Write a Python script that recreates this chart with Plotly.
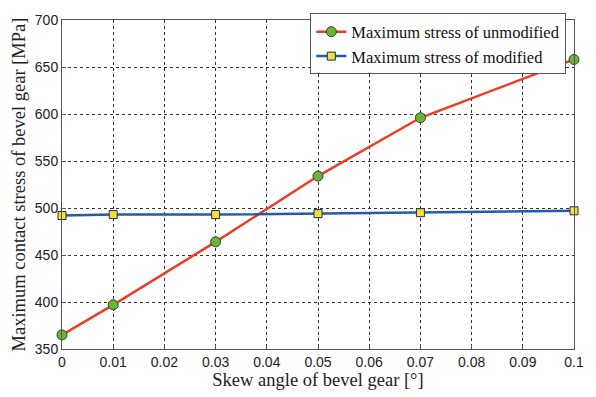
import plotly.graph_objects as go

skew = [0, 0.01, 0.03, 0.05, 0.07, 0.1]
unmodified = [365, 397, 464, 534, 596, 658]
modified = [492, 493, 493, 494, 495, 497]

x_ticks = [0, 0.01, 0.02, 0.03, 0.04, 0.05, 0.06, 0.07, 0.08, 0.09, 0.1]
x_labels = ["0", "0.01", "0.02", "0.03", "0.04", "0.05", "0.06", "0.07", "0.08", "0.09", "0.1"]
y_ticks = [350, 400, 450, 500, 550, 600, 650, 700]

serif = "Liberation Serif, Times New Roman, serif"
sans = "Liberation Sans, Arial, sans-serif"

fig = go.Figure()
fig.add_trace(go.Scatter(
    x=skew, y=unmodified, mode="lines+markers", name="Maximum stress of unmodified",
    line=dict(color="#ee3b24", width=2.5),
    marker=dict(symbol="circle", size=10, color="#6ab43c", line=dict(color="#2d4a1a", width=1)),
    cliponaxis=False,
))
fig.add_trace(go.Scatter(
    x=skew, y=modified, mode="lines+markers", name="Maximum stress of modified",
    line=dict(color="#1f5cb0", width=2.5),
    marker=dict(symbol="square", size=8, color="#f5e135", line=dict(color="#1e2a50", width=1)),
    cliponaxis=False,
))

axis_common = dict(
    showline=True, linecolor="#555555", linewidth=1, mirror=True,
    showgrid=True, gridcolor="#333333", griddash="dot", gridwidth=1,
    ticks="inside", ticklen=4, tickcolor="#555555",
    zeroline=False,
    tickfont=dict(family=sans, size=14, color="#222222"),
)

fig.update_layout(
    width=596, height=397,
    margin=dict(l=62, r=15, t=12, b=41),
    paper_bgcolor="white", plot_bgcolor="white",
    xaxis=dict(range=[0, 0.1], tickvals=x_ticks, ticktext=x_labels,
               title=dict(text="Skew angle of bevel gear [°]", font=dict(family=serif, size=18.5, color="#222222"), standoff=2),
               **axis_common),
    yaxis=dict(range=[350, 700], tickvals=y_ticks,
               title=dict(text="Maximum contact stress of bevel gear [MPa]", font=dict(family=serif, size=18.5, color="#222222"), standoff=4),
               **axis_common),
    legend=dict(x=0.985, y=1.02, xanchor="right", yanchor="top",
                bgcolor="white", bordercolor="#555555", borderwidth=1,
                font=dict(family=serif, size=16.5, color="#111111"),
                tracegroupgap=0, itemwidth=30),
    showlegend=True,
)

fig.write_html("out.html")
